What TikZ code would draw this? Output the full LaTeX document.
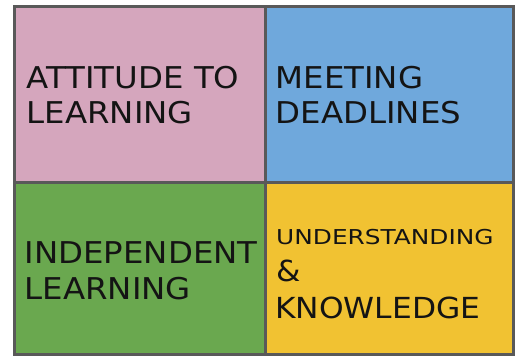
\documentclass[tikz,border=0pt]{standalone}
\usepackage{fontspec}
\newfontfamily\dv[FakeStretch=1.08]{DejaVu Sans}
\newfontfamily\dvw[FakeStretch=1.21]{DejaVu Sans}
\definecolor{cpink}{HTML}{D5A6BD}
\definecolor{cblue}{HTML}{6FA8DC}
\definecolor{cgreen}{HTML}{6AA84F}
\definecolor{cyellow}{HTML}{F1C232}
\definecolor{cline}{HTML}{595959}
\definecolor{ctext}{HTML}{141414}
\tikzset{
  cell/.style={draw=cline, line width=3pt, inner sep=0pt, outer sep=0pt},
  big/.style={anchor=base west, inner sep=0pt, text=ctext, font=\dv\fontsize{30}{36}\selectfont},
  small/.style={anchor=base west, inner sep=0pt, text=ctext, font=\dvw\fontsize{20.5}{24}\selectfont},
  mid/.style={anchor=base west, inner sep=0pt, text=ctext, font=\dv\fontsize{29}{34}\selectfont}
}
\begin{document}
\begin{tikzpicture}[x=1pt,y=-1pt]
\useasboundingbox[fill=white] (0,0) rectangle (517,358);
% cells
\path[cell, fill=cpink]   (14.5,6.5) rectangle (265.5,182.5) node[pos=0.5] (c1) {};
\path[cell, fill=cblue]   (265.5,6.5) rectangle (513,182.5) node[pos=0.5] (c2) {};
\path[cell, fill=cgreen]  (14.5,182.5) rectangle (265.5,354) node[pos=0.5] (c3) {};
\path[cell, fill=cyellow] (265.5,182.5) rectangle (513,354) node[pos=0.5] (c4) {};
% texts
\node[big] (t1a) at (26.5,88.3) {ATTITUDE TO};
\node[big] (t1b) at (26.5,123.3) {LEARNING};
\node[big] (t2a) at (275.5,88.3) {MEETING};
\node[big] (t2b) at (275.5,123.3) {DEADLINES};
\node[big] (t3a) at (24.5,264) {INDEPENDENT};
\node[big] (t3b) at (24.5,300) {LEARNING};
\node[small] (t4a) at (276,244.3) {UNDERSTANDING};
\node[mid] (t4b) at (276,281.7) {\&};
\node[mid] (t4c) at (275,318.3) {KNOWLEDGE};
\end{tikzpicture}
\end{document}
